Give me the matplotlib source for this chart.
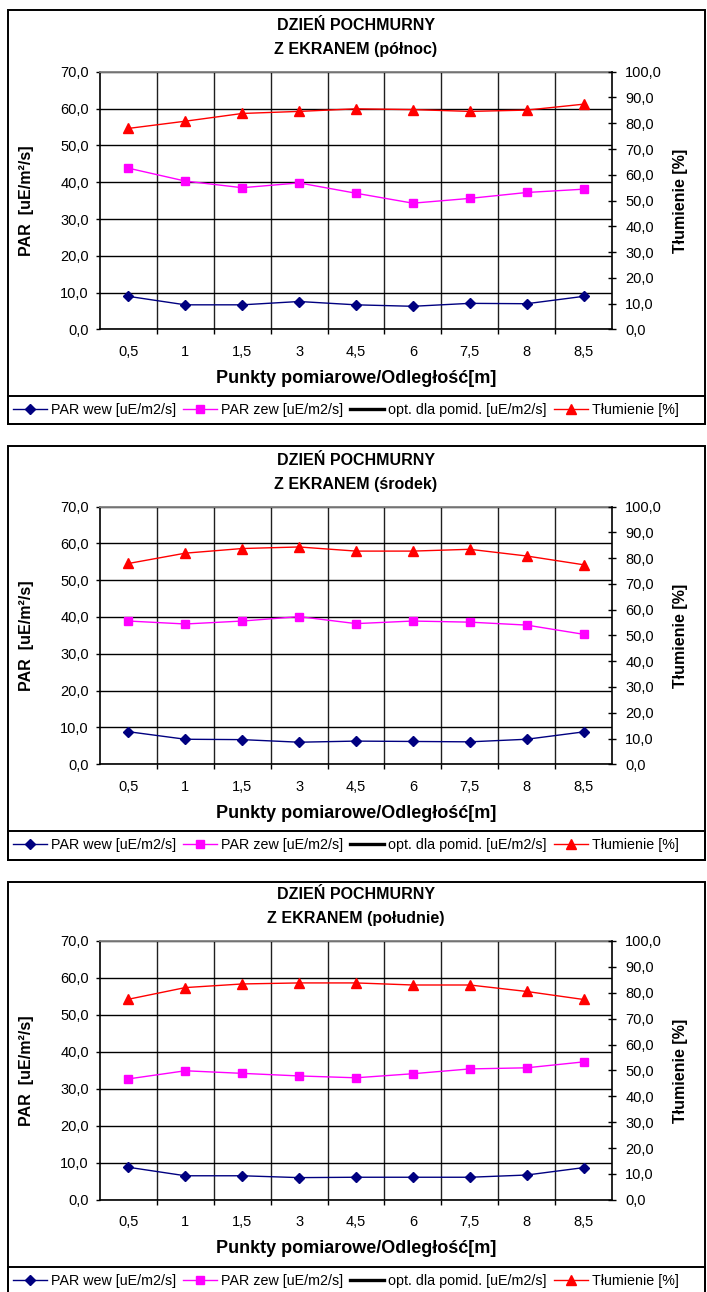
import numpy as np
import matplotlib
matplotlib.use("Agg")
import matplotlib.pyplot as plt
from matplotlib.patches import Rectangle
from matplotlib.ticker import FuncFormatter, MultipleLocator, FixedLocator

plt.rcParams["font.family"] = ["Liberation Sans", "DejaVu Sans"]

# --- data ------------------------------------------------------------------------
punkty = ["0,5", "1", "1,5", "3", "4,5", "6", "7,5", "8", "8,5"]
tytuly = ["Z EKRANEM (północ)", "Z EKRANEM (środek)", "Z EKRANEM (południe)"]

polnoc_wew = [9.0, 6.7, 6.7, 7.6, 6.7, 6.3, 7.1, 7.0, 9.0]
polnoc_zew = [43.8, 40.3, 38.5, 39.8, 37.0, 34.3, 35.6, 37.2, 38.1]
polnoc_tlum = [78.0, 80.8, 83.8, 84.6, 85.6, 85.3, 84.6, 85.1, 87.4]

srodek_wew = [8.85, 6.8, 6.7, 6.0, 6.3, 6.2, 6.1, 6.8, 8.8]
srodek_zew = [38.9, 38.1, 38.9, 40.1, 38.2, 38.9, 38.6, 37.8, 35.3]
srodek_tlum = [77.9, 81.9, 83.7, 84.3, 82.7, 82.7, 83.4, 80.8, 77.4]

poludnie_wew = [8.8, 6.5, 6.5, 6.0, 6.1, 6.1, 6.1, 6.7, 8.7]
poludnie_zew = [32.7, 34.9, 34.2, 33.5, 33.0, 34.1, 35.4, 35.7, 37.3]
poludnie_tlum = [77.5, 82.0, 83.4, 83.8, 83.8, 83.0, 83.0, 80.5, 77.4]

opt_pomid = []  # series is in the legend only, no points visible

# --- layout (pixels, top-left origin) ---------------------------------------------
W, H, DPI = 707, 1292, 100
fig = plt.figure(figsize=(W / DPI, H / DPI), dpi=DPI)
fig.patch.set_facecolor("white")

AX_L, AX_R = 100, 612
BOX_L, BOX_R = 8, 705
panels = [
    dict(box=(10, 424), ax=(71.7, 329.5), leg=396, wew=polnoc_wew, zew=polnoc_zew, tl=polnoc_tlum),
    dict(box=(446, 860), ax=(506.5, 764.3), leg=831, wew=srodek_wew, zew=srodek_zew, tl=srodek_tlum),
    dict(box=(882, 1296), ax=(941.0, 1199.8), leg=1267, wew=poludnie_wew, zew=poludnie_zew, tl=poludnie_tlum),
]

fmt = FuncFormatter(lambda v, _p: f"{v:.1f}".replace(".", ","))
x = np.arange(len(punkty))


def fx(px):
    return px / W


def fy(py):
    return 1 - py / H


for i, p in enumerate(panels):
    bt, bb = p["box"]
    at, ab = p["ax"]
    lt = p["leg"]
    # panel frame + legend frame (legend runs right up to the panel edge)
    fig.add_artist(Rectangle((fx(BOX_L), fy(bb)), fx(BOX_R) - fx(BOX_L), fy(bt) - fy(bb),
                             transform=fig.transFigure, fill=False, ec="black", lw=1.4, zorder=0))
    fig.add_artist(Rectangle((fx(BOX_L), fy(bb)), fx(BOX_R) - fx(BOX_L), fy(lt) - fy(bb),
                             transform=fig.transFigure, fill=False, ec="black", lw=1.4, zorder=0))

    ax = fig.add_axes([fx(AX_L), fy(ab), fx(AX_R) - fx(AX_L), fy(at) - fy(ab)])
    ax2 = ax.twinx()

    l1, = ax.plot(x, p["wew"], color="#000080", lw=1.0, marker="D", ms=4.6, mec="#000080",
                  label="PAR wew [uE/m2/s]", zorder=4)
    l2, = ax.plot(x, p["zew"], color="#FF00FF", lw=1.0, marker="s", ms=6.3, mec="#FF00FF",
                  label="PAR zew [uE/m2/s]", zorder=4)
    l3, = ax.plot(opt_pomid, opt_pomid, color="black", lw=2.4, label="opt. dla pomid. [uE/m2/s]")
    l4, = ax2.plot(x, p["tl"], color="#FF0000", lw=1.0, marker="^", ms=6.8, mec="#FF0000",
                   label="Tłumienie [%]", zorder=4)

    ax.set_xlim(-0.5, len(punkty) - 0.5)
    ax.set_ylim(0, 70)
    ax2.set_ylim(0, 100)
    ax.yaxis.set_major_locator(MultipleLocator(10))
    ax2.yaxis.set_major_locator(MultipleLocator(10))
    ax.yaxis.set_major_formatter(fmt)
    ax2.yaxis.set_major_formatter(fmt)
    ax.set_xticks(x)
    ax.set_xticklabels(punkty)
    ax.xaxis.set_minor_locator(FixedLocator(np.arange(0.5, len(punkty) - 1, 1.0)))

    ax.grid(axis="y", which="major", color="black", lw=1.0)
    ax.grid(axis="x", which="minor", color="#202020", lw=1.0)
    ax.set_axisbelow(True)

    ax.tick_params(axis="x", which="major", length=0, pad=11, labelsize=10.5)
    ax.tick_params(axis="x", which="minor", length=3.5, width=1.0, direction="out")
    ax.tick_params(axis="y", length=3, width=1.0, direction="out", pad=5, labelsize=10.5)
    ax2.tick_params(axis="y", length=6, width=1.0, direction="inout", pad=6.5, labelsize=10.5)

    ax.spines["right"].set_visible(False)
    ax.spines["top"].set_color("#808080")
    ax.spines["top"].set_linewidth(1.3)
    ax.spines["left"].set_linewidth(1.2)
    ax.spines["bottom"].set_linewidth(1.2)
    for s in ("left", "top", "bottom"):
        ax2.spines[s].set_visible(False)
    ax2.spines["right"].set_linewidth(1.2)

    hgt = ab - at
    ax.text(0.5, 1 + 46 / hgt, "DZIEŃ POCHMURNY", transform=ax.transAxes,
            ha="center", va="center", fontsize=11.5, fontweight="bold")
    ax.text(0.5, 1 + 22 / hgt, tytuly[i], transform=ax.transAxes,
            ha="center", va="center", fontsize=11.5, fontweight="bold")
    ax.text(0.5, -49 / hgt, "Punkty pomiarowe/Odległość[m]", transform=ax.transAxes,
            ha="center", va="center", fontsize=13, fontweight="bold")
    ax.text((26 - AX_L) / (AX_R - AX_L), 0.5, "PAR  [uE/m²/s]", transform=ax.transAxes,
            ha="center", va="center", rotation=90, fontsize=11.5, fontweight="bold")
    ax.text((680 - AX_L) / (AX_R - AX_L), 0.5, "Tłumienie [%]", transform=ax.transAxes,
            ha="center", va="center", rotation=90, fontsize=11.5, fontweight="bold")

    fig.legend(handles=[l1, l2, l3, l4], loc="center left", ncol=4,
               bbox_to_anchor=(fx(BOX_L), (fy(lt) + fy(bb)) / 2),
               borderaxespad=0, fontsize=10.3, frameon=False,
               handlelength=2.35, handletextpad=0.3, columnspacing=0.5, borderpad=0.35)

fig.savefig("out.png", dpi=DPI, facecolor="white")
